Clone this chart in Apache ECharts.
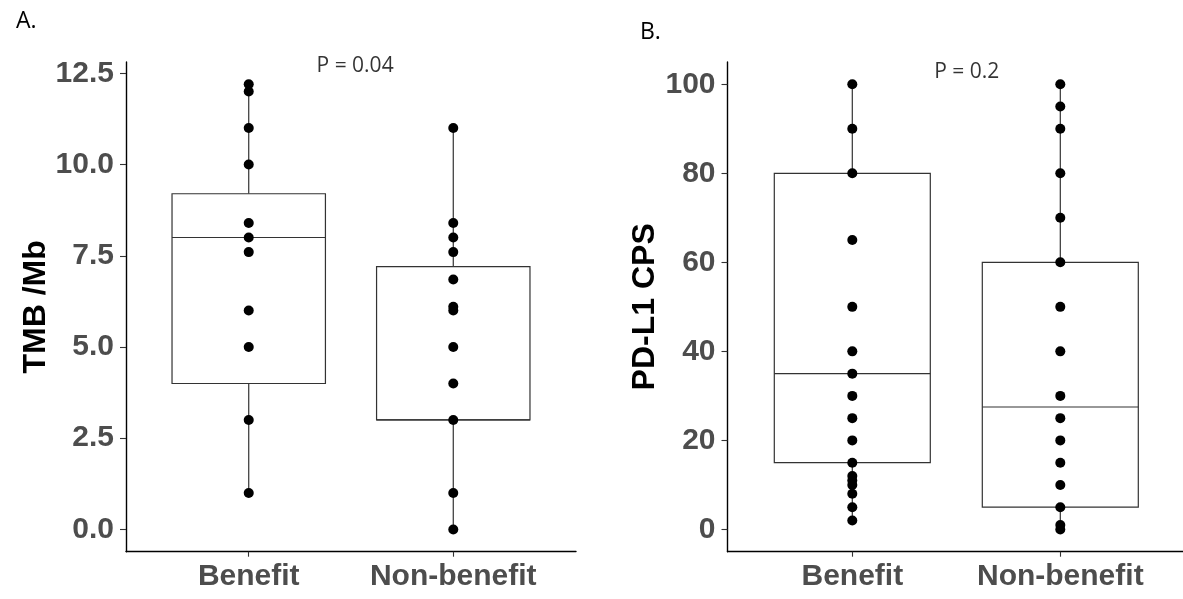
<!DOCTYPE html>
<html><head><meta charset="utf-8">
<script src="https://cdn.jsdelivr.net/npm/echarts@6/dist/echarts.min.js"></script>
<style>html,body{margin:0;padding:0;background:#fff}#c{width:1183px;height:599px}</style>
</head><body><div id="c"></div>
<script>
// ---- data ----
const groups = ['Benefit', 'Non-benefit'];
const tmbBenefit = [12.2, 12.0, 11, 10, 8.4, 8.0, 7.6, 6.0, 5.0, 3.0, 1.0];
const tmbNonBenefit = [11, 8.4, 8.0, 7.6, 6.85, 6.1, 6.0, 5.0, 4.0, 3.0, 1.0, 0];
const cpsBenefit = [100, 90, 80, 65, 50, 40, 35, 30, 25, 20, 15, 12, 11, 10, 8, 5, 2];
const cpsNonBenefit = [100, 95, 90, 80, 70, 60, 50, 40, 30, 25, 20, 15, 10, 5, 1, 0];
// box stats: [min, Q1, median, Q3, max]
const tmbBoxBenefit = [1.0, 4.0, 8.0, 9.2, 12.2];
const tmbBoxNonBenefit = [0, 3.0, 3.0, 7.2, 11];
const cpsBoxBenefit = [2, 15, 35, 80, 100];
const cpsBoxNonBenefit = [0, 5, 27.5, 60, 100];
const tmbTicks = [0, 2.5, 5, 7.5, 10, 12.5];
const cpsTicks = [0, 20, 40, 60, 80, 100];
const pTexts = ['P = 0.04', 'P = 0.2'];
const pPosA = [1.52, 12.71];
const pPosB = [1.55, 102.8];
const panelLabels = ['A.', 'B.'];
const yNames = ['TMB /Mb', 'PD-L1 CPS'];

// ---- helpers ----
const BOLD = 'Liberation Sans, Arial, sans-serif';
const REG = 'Open Sans, Noto Sans, sans-serif';
function pts(x, arr) { return arr.map(v => [x, v]); }
function boxRender(params, api) {
  const x = api.value(0);
  const pt = i => api.coord([x, api.value(i)]);
  const w = api.size([0.75, 0])[0];
  const pMin = pt(1), pQ1 = pt(2), pMed = pt(3), pQ3 = pt(4), pMax = pt(5);
  const cx = pMin[0];
  const st = { stroke: '#333', lineWidth: 1.2, fill: 'none' };
  return { type: 'group', children: [
    { type: 'line', shape: { x1: cx, y1: pMin[1], x2: cx, y2: pQ1[1] }, style: st },
    { type: 'line', shape: { x1: cx, y1: pQ3[1], x2: cx, y2: pMax[1] }, style: st },
    { type: 'rect', shape: { x: cx - w / 2, y: pQ3[1], width: w, height: pQ1[1] - pQ3[1] }, style: { stroke: '#333', lineWidth: 1.2, fill: '#fff' } },
    { type: 'line', shape: { x1: cx - w / 2, y1: pMed[1], x2: cx + w / 2, y2: pMed[1] }, style: st }
  ]};
}
function xAxis(idx) {
  return {
    type: 'value', gridIndex: idx, min: 0.4, max: 2.6,
    splitLine: { show: false },
    axisLine: { show: true, onZero: false, lineStyle: { color: '#000', width: 1.4 } },
    axisTick: { show: true, customValues: [1, 2], length: 5, lineStyle: { color: '#333', width: 1.1 } },
    axisLabel: { customValues: [1, 2], formatter: v => groups[Math.round(v) - 1], margin: 10,
      fontFamily: BOLD, fontWeight: 'bold', fontSize: 30, color: '#4D4D4D' }
  };
}
function yAxis(idx, min, max, ticks, name, fmt, gap) {
  return {
    type: 'value', gridIndex: idx, min: min, max: max,
    name: name, nameLocation: 'middle', nameGap: gap,
    nameTextStyle: { fontFamily: BOLD, fontWeight: 'bold', fontSize: 32, color: '#000' },
    splitLine: { show: false },
    axisLine: { show: true, onZero: false, lineStyle: { color: '#000', width: 1.4 } },
    axisTick: { show: true, customValues: ticks, length: 6, lineStyle: { color: '#333', width: 1.1 } },
    axisLabel: { customValues: ticks, formatter: fmt, margin: 12,
      fontFamily: BOLD, fontWeight: 'bold', fontSize: 30, color: '#4D4D4D' }
  };
}
function pLabel(idx, pos, text) {
  return { type: 'scatter', xAxisIndex: idx, yAxisIndex: idx, symbolSize: 0, z: 5, silent: true,
    data: [pos],
    label: { show: true, position: 'inside', formatter: text, fontFamily: REG, fontSize: 21, color: '#000' } };
}

const chart = echarts.init(document.getElementById('c'), null, { renderer: 'canvas' });
chart.setOption({
  animation: false,
  backgroundColor: '#fff',
  title: [
    { text: panelLabels[0], left: 11, top: 5, textStyle: { fontFamily: REG, fontWeight: 'normal', fontSize: 23, color: '#000' } },
    { text: panelLabels[1], left: 635, top: 16, textStyle: { fontFamily: REG, fontWeight: 'normal', fontSize: 23, color: '#000' } }
  ],
  grid: [
    { left: 126, top: 62, width: 450, height: 489.7, outerBoundsMode: 'none' },
    { left: 727.5, top: 62, width: 457.6, height: 489.7, outerBoundsMode: 'none' }
  ],
  xAxis: [xAxis(0), xAxis(1)],
  yAxis: [
    yAxis(0, -0.61, 12.81, tmbTicks, yNames[0], v => v.toFixed(1), 74),
    yAxis(1, -5, 105, cpsTicks, yNames[1], v => String(v), 56)
  ],
  series: [
    { type: 'custom', xAxisIndex: 0, yAxisIndex: 0, renderItem: boxRender, z: 2,
      encode: { x: 0, y: [1, 2, 3, 4, 5] },
      data: [[1].concat(tmbBoxBenefit), [2].concat(tmbBoxNonBenefit)] },
    { type: 'custom', xAxisIndex: 1, yAxisIndex: 1, renderItem: boxRender, z: 2,
      encode: { x: 0, y: [1, 2, 3, 4, 5] },
      data: [[1].concat(cpsBoxBenefit), [2].concat(cpsBoxNonBenefit)] },
    { type: 'scatter', xAxisIndex: 0, yAxisIndex: 0, symbol: 'circle', symbolSize: 10, z: 4,
      itemStyle: { color: '#000', opacity: 1 }, data: pts(1, tmbBenefit).concat(pts(2, tmbNonBenefit)) },
    { type: 'scatter', xAxisIndex: 1, yAxisIndex: 1, symbol: 'circle', symbolSize: 10, z: 4,
      itemStyle: { color: '#000', opacity: 1 }, data: pts(1, cpsBenefit).concat(pts(2, cpsNonBenefit)) },
    pLabel(0, pPosA, pTexts[0]),
    pLabel(1, pPosB, pTexts[1])
  ]
});
</script>
</body></html>
